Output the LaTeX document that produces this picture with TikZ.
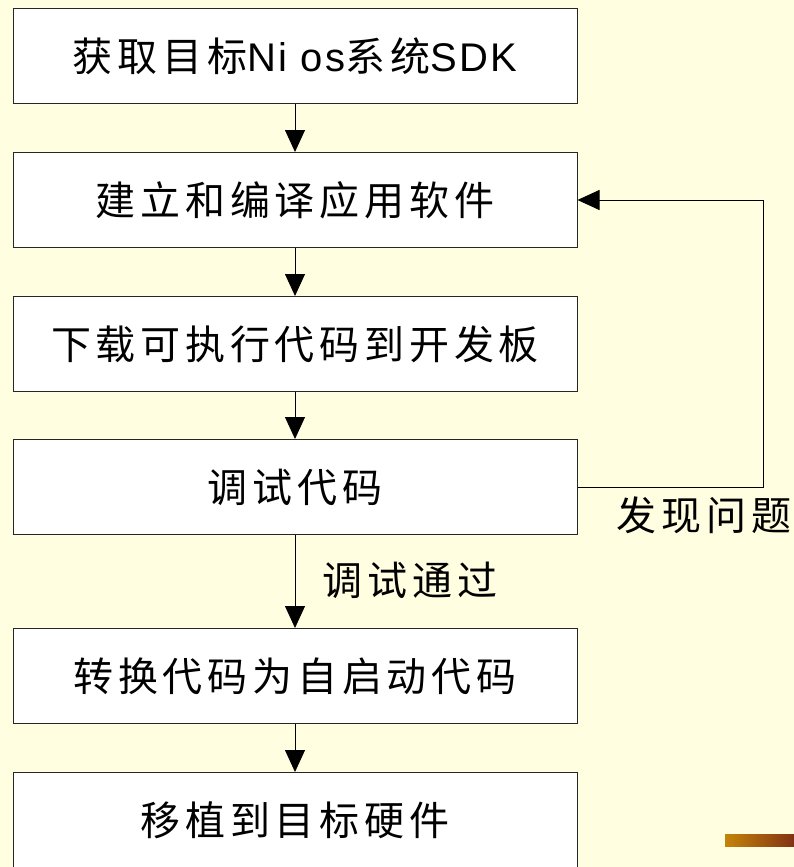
\documentclass[tikz,border=0pt]{standalone}
\usepackage{fontspec}
\setmainfont{Liberation Sans}
\newfontfamily\cjk{Noto Sans CJK SC}[LetterSpace=12]
\newfontfamily\latn{Liberation Sans}[LetterSpace=6]
\usetikzlibrary{arrows.meta}
\definecolor{pagebg}{RGB}{255,254,224}
\definecolor{barleft}{RGB}{196,132,10}
\definecolor{barright}{RGB}{130,50,20}
\tikzset{
  stepbox/.style={draw=black!85, line width=1pt, fill=white,
    minimum width=564pt, minimum height=95pt, inner sep=0pt,
    font=\fontsize{40}{42}\selectfont\cjk},
  flow/.style={line width=0.9pt, -{Triangle[width=20pt,length=22pt]}},
  lbl/.style={font=\fontsize{40}{42}\selectfont\cjk, inner sep=0pt}
}
\begin{document}
\begin{tikzpicture}[x=1pt,y=-1pt]
  \useasboundingbox (0,0) rectangle (794,867);
  \fill[pagebg] (0,0) rectangle (794,867);
  \clip (0,0) rectangle (794,867);

  % process steps
  \node[stepbox] (s1) at (295,56)  {获取目标{\latn Ni os}系统{\latn SDK}};
  \node[stepbox] (s2) at (295,200) {建立和编译应用软件};
  \node[stepbox] (s3) at (295,344) {下载可执行代码到开发板};
  \node[stepbox] (s4) at (295,487) {调试代码};
  \node[stepbox] (s5) at (295,676) {转换代码为自启动代码};
  \node[stepbox] (s6) at (295,820) {移植到目标硬件};

  % forward flow
  \draw[flow] (s1) -- (s2);
  \draw[flow] (s2) -- (s3);
  \draw[flow] (s3) -- (s4);
  \draw[flow] (s4) -- (s5);
  \draw[flow] (s5) -- (s6);

  % feedback loop on failure
  \coordinate (lb) at (763,487);
  \coordinate (lt) at (763,200);
  \draw[flow] (s4.east) -- (lb) -- (lt) -- (s2.east);

  \node[lbl] (fail) at (704,515) {发现问题};
  \node[lbl] (pass) at (410,580) {调试通过};

  % ornament bar in the lower corner
  \shade[left color=barleft, right color=barright] (725,834) rectangle (794,846);
\end{tikzpicture}
\end{document}
